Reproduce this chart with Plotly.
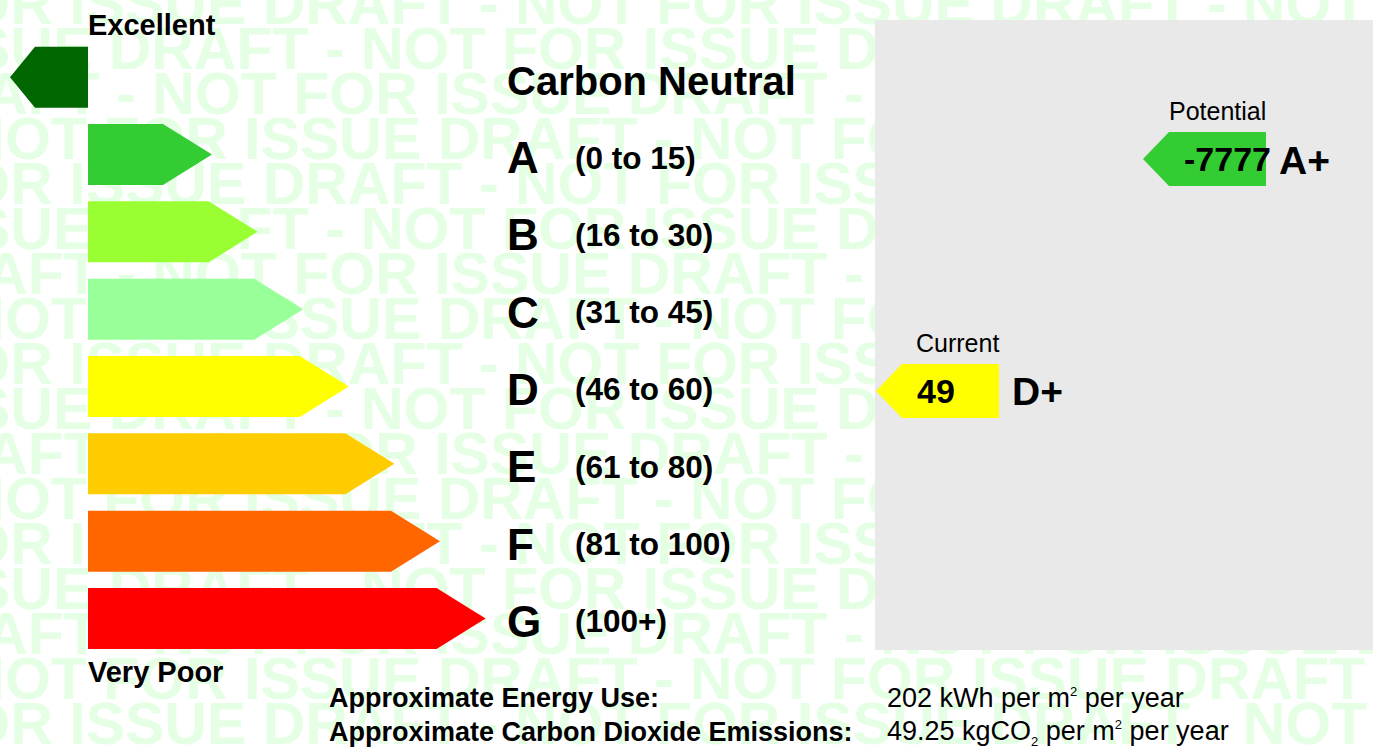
import plotly.graph_objects as go

# ---------------- data ----------------
bands = ["A", "B", "C", "D", "E", "F", "G"]
band_ranges = ["(0 to 15)", "(16 to 30)", "(31 to 45)", "(46 to 60)",
               "(61 to 80)", "(81 to 100)", "(100+)"]
band_upper = [15, 30, 45, 60, 80, 100, float("inf")]
band_colors = ["#33cc33", "#99ff33", "#99ff99", "#ffff00",
               "#ffcc00", "#ff6600", "#ff0000"]
neutral_label = "Carbon Neutral"
neutral_color = "#006600"
top_label = "Excellent"
bottom_label = "Very Poor"

rating_names = ["Current", "Potential"]
rating_values = [49, -7777]
rating_grades = ["D+", "A+"]

summary_labels = ["Approximate Energy Use:", "Approximate Carbon Dioxide Emissions:"]
energy_use = 202
co2_emissions = 49.25
SUP2 = '<sup><span style="font-size:13px">2</span></sup>'
SUB2 = '<sub><span style="font-size:13px">2</span></sub>'
summary_values = [f"{energy_use} kWh per m{SUP2} per year",
                  f"{co2_emissions} kgCO{SUB2} per m{SUP2} per year"]

watermark_phrase = "DRAFT - NOT FOR ISSUE "

# ---------------- layout constants (pixels) ----------------
W, H = 1373, 747
FONT = "Liberation Sans, Arial, sans-serif"
BAND_TOP0 = 124.0
BAND_PITCH = 77.33
BAND_H = 61.0
BAR_LEFT = 88.0
BAR_BODY0 = 75.0
BAR_GROW = 45.6
BAR_TIP = 49.0
NEUTRAL_TIP = 25.0
NEUTRAL_LEFT = 10.0
PANEL_X0, PANEL_X1, PANEL_Y0, PANEL_Y1 = 875, 1380, 20, 650
COL_TIPX = {"Current": 876, "Potential": 1143}
RATE_TIP = 26
RATE_BOX = 97
RATE_H = 54
WM_SIZE = 59
WM_COLOR = "#e5ffe5"
WM_ROW0 = 3
WM_PITCH = 45
WM_ROWS = 17
WM_STARTS = [266 - 731, 112 - 731, -100, -290]
WM_DY = 6

fig = go.Figure()

# watermark (below everything)
wm_x, wm_y, wm_t = [], [], []
for k in range(WM_ROWS):
    wm_x.append(WM_STARTS[k % 4])
    wm_y.append(WM_ROW0 + WM_PITCH * k + WM_DY)
    wm_t.append(watermark_phrase * 4)
fig.add_trace(go.Scatter(x=wm_x, y=wm_y, text=wm_t, mode="text",
                         textposition="middle right",
                         textfont=dict(family=FONT, size=WM_SIZE, color=WM_COLOR, weight="bold"),
                         hoverinfo="skip", cliponaxis=True))

def poly(xs, ys, color):
    fig.add_trace(go.Scatter(x=xs + [xs[0]], y=ys + [ys[0]], mode="lines",
                             fill="toself", fillcolor=color,
                             line=dict(width=0, color=color), hoverinfo="skip"))

# grey panel
poly([PANEL_X0, PANEL_X1, PANEL_X1, PANEL_X0],
     [PANEL_Y0, PANEL_Y0, PANEL_Y1, PANEL_Y1], "#e9e9e9")

# carbon neutral arrow (left-pointing)
nt = BAND_TOP0 - BAND_PITCH
poly([BAR_LEFT, NEUTRAL_LEFT + NEUTRAL_TIP, NEUTRAL_LEFT, NEUTRAL_LEFT + NEUTRAL_TIP, BAR_LEFT],
     [nt, nt, nt + BAND_H / 2, nt + BAND_H, nt + BAND_H], neutral_color)

annotations = []

def text(x, y, s, size, bold=True, anchor="left", color="black"):
    annotations.append(dict(x=x, y=y, xref="x", yref="y", text=s, showarrow=False,
                            xanchor=anchor, yanchor="middle",
                            font=dict(family=FONT, size=size, color=color,
                                      weight="bold" if bold else "normal")))

text(86, 25, top_label, 29)
text(86, 672, bottom_label, 29)
text(505, nt + BAND_H / 2 + 4, neutral_label, 40)

# bands
for i, (b, r, c) in enumerate(zip(bands, band_ranges, band_colors)):
    top = BAND_TOP0 + BAND_PITCH * i
    end = BAR_LEFT + BAR_BODY0 + BAR_GROW * i
    poly([BAR_LEFT, end, end + BAR_TIP, end, BAR_LEFT],
         [top, top, top + BAND_H / 2, top + BAND_H, top + BAND_H], c)
    cy = top + BAND_H / 2 + 3
    text(505, cy, b, 44)
    text(573, cy, r, 31.5)

# rating arrows
for name, val, grade in zip(rating_names, rating_values, rating_grades):
    bi = next(i for i, u in enumerate(band_upper) if val <= u)
    bottom = BAND_TOP0 + BAND_PITCH * bi + BAND_H + 1
    top = bottom - RATE_H
    tip = COL_TIPX[name]
    left = tip + RATE_TIP
    right = left + RATE_BOX
    poly([tip, left, right, right, left],
         [top + RATE_H / 2, top, top, bottom, bottom], band_colors[bi])
    cy = top + RATE_H / 2
    text(left + 13, cy, str(val), 34)
    text(right + 11, cy + 1, grade, 39)
    text(right + 2, top - 21, name, 25, bold=False, anchor="right")

# summary
for j, (lab, val) in enumerate(zip(summary_labels, summary_values)):
    y = 698 + 34 * j
    text(327, y, lab, 27)
    text(885, y, val, 27, bold=False)

fig.update_layout(
    width=W, height=H, margin=dict(l=0, r=0, t=0, b=0),
    paper_bgcolor="white", plot_bgcolor="white",
    showlegend=False, hovermode=False,
    xaxis=dict(range=[0, W], visible=False, fixedrange=True),
    yaxis=dict(range=[H, 0], visible=False, fixedrange=True),
    annotations=annotations,
)

fig.write_html("out.html", config={"displayModeBar": False},
               post_script="document.body.style.margin='0';document.body.style.overflow='hidden';")
